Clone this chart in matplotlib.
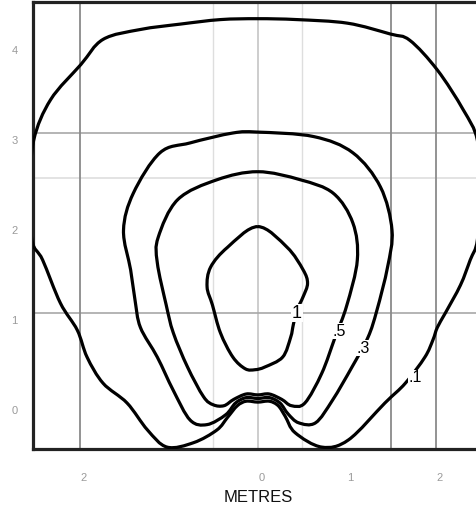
import matplotlib
matplotlib.use("Agg")
import matplotlib.pyplot as plt
import matplotlib.transforms as mtransforms
from matplotlib.path import Path
from matplotlib.patches import PathPatch

plt.rcParams['font.family'] = ['Liberation Sans', 'DejaVu Sans']

# Contour levels (closed curves, metres)
c1_x = [0.0, 0.33, 0.51, 0.56, 0.51, 0.44, 0.40, 0.37, 0.28, 0.08, -0.03, -0.14, -0.28, -0.42, -0.51, -0.57, -0.53, -0.34, 0.0]
c1_y = [1.96, 1.73, 1.48, 1.33, 1.18, 1.03, 0.87, 0.73, 0.51, 0.40, 0.37, 0.38, 0.51, 0.78, 1.09, 1.29, 1.51, 1.73, 1.96]

c5_x = [0.0, 0.48, 0.85, 1.07, 1.12, 1.0, 0.87, 0.72, 0.53, 0.38, 0.27, 0.13, 0.0, -0.13, -0.27, -0.38, -0.5, -0.61, -0.79, -0.95, -1.03, -1.13, -1.12, -0.9, -0.46, 0.0]
c5_y = [2.57, 2.48, 2.33, 2.0, 1.59, 1.08, 0.73, 0.33, 0.0, -0.03, 0.04, 0.10, 0.09, 0.10, 0.04, -0.03, -0.02, 0.07, 0.40, 0.78, 1.09, 1.56, 1.84, 2.26, 2.48, 2.57]

c3_x = [0.0, 0.63, 1.07, 1.38, 1.51, 1.46, 1.34, 1.24, 1.06, 0.84, 0.65, 0.46, 0.34, 0.25, 0.13, 0.0, -0.13, -0.25, -0.36, -0.57, -0.76, -0.95, -1.13, -1.32, -1.38, -1.43, -1.51, -1.40, -1.10, -0.76, -0.28, 0.0]
c3_y = [3.01, 2.96, 2.78, 2.40, 1.92, 1.51, 1.03, 0.73, 0.40, 0.03, -0.22, -0.22, -0.12, 0.0, 0.06, 0.05, 0.06, 0.0, -0.13, -0.24, -0.19, 0.14, 0.51, 0.84, 1.14, 1.48, 1.92, 2.33, 2.78, 2.89, 3.0, 3.01]

c01_x = [0.0, 0.44, 1.01, 1.49, 1.71, 2.02, 2.31, 2.47, 2.50, 2.47, 2.39, 2.28, 2.11, 2.02, 1.97, 1.88, 1.66, 1.43, 1.02, 0.72, 0.42, 0.31, 0.23, 0.13, 0.0,
         -0.13, -0.23, -0.34, -0.46, -0.72, -1.02, -1.24, -1.47, -1.74, -1.92, -2.03, -2.22, -2.42, -2.54, -2.56, -2.52, -2.33, -1.99, -1.74, -1.32, -0.87, -0.42, 0.0]
c01_y = [4.27, 4.26, 4.22, 4.10, 4.03, 3.70, 3.26, 2.92, 2.37, 1.81, 1.59, 1.31, 1.00, 0.84, 0.70, 0.51, 0.22, 0.0, -0.41, -0.49, -0.33, -0.15, -0.03, 0.02, 0.01,
         0.02, -0.03, -0.16, -0.30, -0.44, -0.49, -0.30, 0.0, 0.22, 0.51, 0.81, 1.11, 1.59, 1.81, 2.37, 2.92, 3.37, 3.76, 4.04, 4.15, 4.21, 4.26, 4.27]

labels = ["1", ".5", ".3", ".1"]
label_x = [0.44, 0.92, 1.19, 1.77]
label_y = [1.0, 0.80, 0.61, 0.28]

xtick_vals = [-2, 0, 1, 2]
xtick_labels = ["2", "0", "1", "2"]
ytick_vals = [0, 1, 2, 3, 4]
ytick_labels = ["0", "1", "2", "3", "4"]

vgrid_major = [-2, 1.5, 2]
vgrid_center = [0]
vgrid_faint = [-0.5, 0.5]
hgrid_major = [1, 3]
hgrid_faint = [2.5]


def smooth_closed_path(xs, ys):
    """Closed path through the given points, drawn with cubic Bezier segments
    (Catmull-Rom tangents), so the line is smooth like a hand-drawn contour."""
    pts = list(zip(xs, ys))
    if pts[0] == pts[-1]:
        pts = pts[:-1]
    n = len(pts)
    verts = [pts[0]]
    codes = [Path.MOVETO]
    for i in range(n):
        p0 = pts[(i - 1) % n]
        p1 = pts[i]
        p2 = pts[(i + 1) % n]
        p3 = pts[(i + 2) % n]
        c1 = (p1[0] + (p2[0] - p0[0]) / 6.0, p1[1] + (p2[1] - p0[1]) / 6.0)
        c2 = (p2[0] - (p3[0] - p1[0]) / 6.0, p2[1] - (p3[1] - p1[1]) / 6.0)
        verts += [c1, c2, p2]
        codes += [Path.CURVE4, Path.CURVE4, Path.CURVE4]
    return Path(verts, codes)


fig = plt.figure(figsize=(4.77, 5.14), dpi=100)
ax = fig.add_axes([33/477, 65/514, 444/477, 447.5/514])
ax.set_xlim(-2.528, 2.466)
ax.set_ylim(-0.511, 4.461)

for v in vgrid_faint:
    ax.axvline(v, color="#dedede", lw=1.0, zorder=1)
for h in hgrid_faint:
    ax.axhline(h, color="#dedede", lw=1.2, zorder=1)
for v in vgrid_center:
    ax.axvline(v, color="#c0c0c0", lw=1.1, zorder=1)
for h in hgrid_major:
    ax.axhline(h, color="#a8a8a8", lw=1.2, zorder=1)
for v in vgrid_major:
    ax.axvline(v, color="#8a8a8a", lw=1.3, zorder=1)

for xs, ys in [(c01_x, c01_y), (c3_x, c3_y), (c5_x, c5_y), (c1_x, c1_y)]:
    patch = PathPatch(smooth_closed_path(xs, ys), facecolor="none", edgecolor="black",
                      lw=2.3, joinstyle="round", zorder=3)
    ax.add_patch(patch)

for t, x, y in zip(labels, label_x, label_y):
    fs = 13 if t == "1" else 11.5
    ax.text(x, y, t, fontsize=fs, ha="center", va="center", color="black", zorder=4,
            bbox=dict(facecolor="white", edgecolor="none", pad=0.5))

ax.set_xticks(xtick_vals)
ax.set_xticklabels(xtick_labels)
ax.set_yticks(ytick_vals)
ax.set_yticklabels(ytick_labels)
ax.tick_params(axis="both", length=0, labelsize=8, labelcolor="#9a9a9a")
ax.tick_params(axis="x", pad=17)
ax.tick_params(axis="y", pad=11)

dx = mtransforms.ScaledTranslation(4/100, 0, fig.dpi_scale_trans)
for lab in ax.get_xticklabels():
    lab.set_transform(lab.get_transform() + dx)
dy = mtransforms.ScaledTranslation(0, -7/100, fig.dpi_scale_trans)
for lab in ax.get_yticklabels():
    lab.set_transform(lab.get_transform() + dy)

for s in ["left", "top", "bottom"]:
    ax.spines[s].set_linewidth(2.3)
    ax.spines[s].set_color("#222222")
ax.spines["right"].set_visible(False)

fig.text(258/477, 1 - 497/514, "METRES", ha="center", va="center", fontsize=12, color="#111111")

fig.savefig("out.png", dpi=100)
